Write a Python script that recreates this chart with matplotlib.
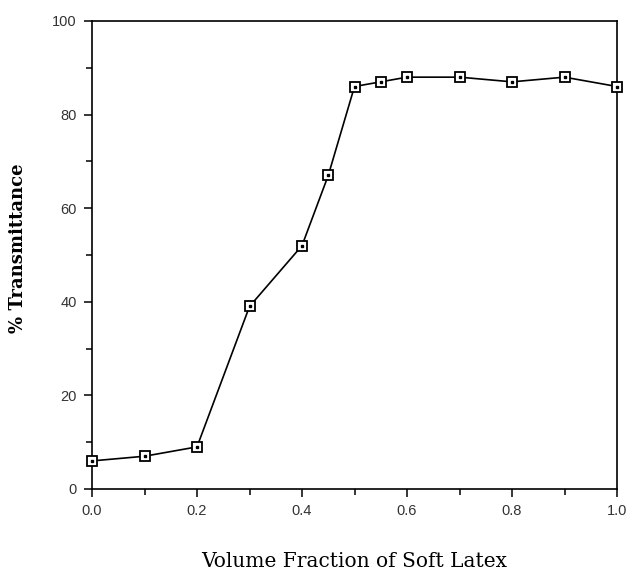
import numpy as np
import matplotlib
matplotlib.use("Agg")
import matplotlib.pyplot as plt
from matplotlib.ticker import MultipleLocator

# volume fraction of soft latex vs % transmittance
frac = [0.0, 0.1, 0.2, 0.3, 0.4, 0.45, 0.5, 0.55, 0.6, 0.7, 0.8, 0.9, 1.0]
trans = [6, 7, 9, 39, 52, 67, 86, 87, 88, 88, 87, 88, 86]

fig = plt.figure(figsize=(6.32, 5.72), dpi=100)
ax = fig.add_axes([92/632, 1-489/572, (617-92)/632, (489-21)/572])

ax.plot(frac, trans, color='black', lw=1.2, marker='s', ms=6.5,
        mfc='white', mec='black', mew=1.3, zorder=3, clip_on=False)
ax.plot(frac, trans, ls='none', marker='s', ms=1.6, color='black', zorder=4,
        clip_on=False)

ax.set_xlim(0, 1.0)
ax.set_ylim(0, 100)
ax.xaxis.set_major_locator(MultipleLocator(0.2))
ax.xaxis.set_minor_locator(MultipleLocator(0.1))
ax.yaxis.set_major_locator(MultipleLocator(20))
ax.yaxis.set_minor_locator(MultipleLocator(10))
ax.tick_params(which='both', direction='out', width=1.1, color='black')
ax.tick_params(which='major', length=6)
ax.tick_params(which='minor', length=4.5)
ax.tick_params(axis='both', labelsize=10.5, labelcolor='#333333', pad=5)
ax.xaxis.set_major_formatter(matplotlib.ticker.FormatStrFormatter('%.1f'))
for lab in ax.get_xticklabels() + ax.get_yticklabels():
    lab.set_family('Liberation Sans')

for s in ax.spines.values():
    s.set_linewidth(1.2)

ax.set_xlabel('Volume Fraction of Soft Latex', family='DejaVu Serif',
              fontsize=14.5, labelpad=24)
ax.set_ylabel('% Transmittance', family='DejaVu Serif', fontsize=13,
              fontweight='bold')
ax.yaxis.set_label_coords(-0.124, 0.515)

fig.savefig('out.png', dpi=100)
